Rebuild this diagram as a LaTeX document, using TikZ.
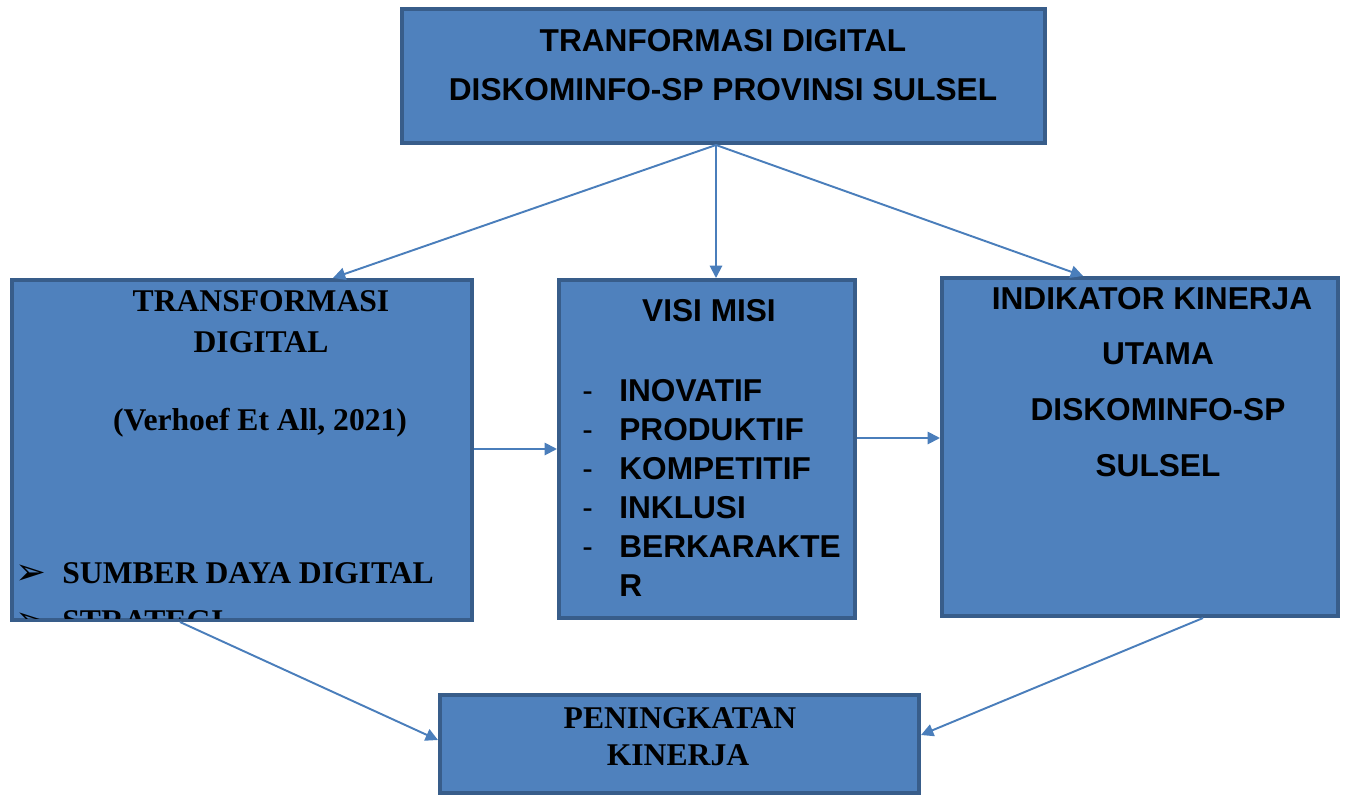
\documentclass[tikz,border=0pt]{standalone}
\usepackage{fontspec}
\usepackage{xcolor}
\usetikzlibrary{arrows.meta,fit}

\newfontfamily\arialfont{Liberation Sans}
\newfontfamily\timesfont{Liberation Serif}
\newfontfamily\symbfont{DejaVu Sans}

\definecolor{boxfill}{HTML}{4F81BD}
\definecolor{boxline}{HTML}{385D8A}
\definecolor{linkcol}{HTML}{4A7EBB}

\tikzset{
  box/.style={draw=boxline, fill=boxfill, line width=2.3pt, inner sep=0pt},
  sanstxt/.style={font=\arialfont\bfseries\fontsize{18}{22}\selectfont, inner sep=0pt, anchor=base},
  seriftxt/.style={font=\timesfont\bfseries\fontsize{18}{22}\selectfont, inner sep=0pt, anchor=base},
  link/.style={draw=linkcol, line width=1.1pt, -{Triangle[length=7pt,width=7pt]}}
}

\begin{document}
\begin{tikzpicture}[x=0.02cm, y=-0.02cm]
\useasboundingbox (0,0) rectangle (1350,795);

% boxes
\node[box, fit={(402,9) (1045,143)}] (top) {};
\node[box, fit={(12,280) (472,620)}] (tdig) {};
\node[box, fit={(559,280) (855,618)}] (visi) {};
\node[box, fit={(942,278) (1338,616)}] (iku) {};
\node[box, fit={(440,695) (919,793)}] (kinerja) {};

% top box
\node[sanstxt] (t1) at (723,51) {TRANFORMASI DIGITAL};
\node[sanstxt] (t2) at (723,100) {DISKOMINFO-SP PROVINSI SULSEL};

% left box
\node[seriftxt] (l1) at (261,311) {TRANSFORMASI};
\node[seriftxt] (l2) at (261,352) {DIGITAL};
\node[seriftxt] (l3) at (260,430) {(Verhoef Et All, 2021)};
\begin{scope}
\clip (14,282) rectangle (470,618);
\node[seriftxt, anchor=base west, font=\symbfont\fontsize{21}{24}\selectfont] (b1) at (15,584) {➢};
\node[seriftxt, anchor=base west] (l4) at (62,583) {SUMBER DAYA DIGITAL};
\node[seriftxt, anchor=base west, font=\symbfont\fontsize{21}{24}\selectfont] (b2) at (15,632) {➢};
\node[seriftxt, anchor=base west] (l5) at (62,631) {STRATEGI};
\end{scope}

% middle box
\node[sanstxt] (v0) at (709,321) {VISI MISI};
\foreach \y/\word [count=\i] in {401/INOVATIF, 440/PRODUKTIF, 479/KOMPETITIF, 518/INKLUSI, 557/BERKARAKTE} {
  \node[sanstxt, anchor=base west, font=\arialfont\fontsize{18}{22}\selectfont] (d\i) at (582,\y) {-};
  \node[sanstxt, anchor=base west] (v\i) at (619,\y) {\word};
}
\node[sanstxt, anchor=base west] (v6) at (619,596) {R};

% right box
\node[sanstxt] (r1) at (1152,309) {INDIKATOR KINERJA};
\node[sanstxt] (r2) at (1158,364) {UTAMA};
\node[sanstxt] (r3) at (1158,420) {DISKOMINFO-SP};
\node[sanstxt] (r4) at (1158,476) {SULSEL};

% bottom box
\node[seriftxt] (k1) at (680,728) {PENINGKATAN};
\node[seriftxt] (k2) at (678,765) {KINERJA};

% connectors
\coordinate (fork) at (716,145);
\draw[link] (fork) -- ([xshift=1.82cm]tdig.north);
\draw[link] (fork) -- (716,278);
\draw[link] (fork) -- ([xshift=-1.14cm]iku.north);
\draw[link] (tdig.east |- 0,449) -- (visi.west |- 0,449);
\draw[link] (visi.east |- 0,438) -- (iku.west |- 0,438);
\draw[link] ([xshift=-1.24cm]tdig.south) -- (kinerja.west |- 0,740);
\draw[link] ([xshift=1.26cm]iku.south) -- (kinerja.east |- 0,735);
\end{tikzpicture}
\end{document}
